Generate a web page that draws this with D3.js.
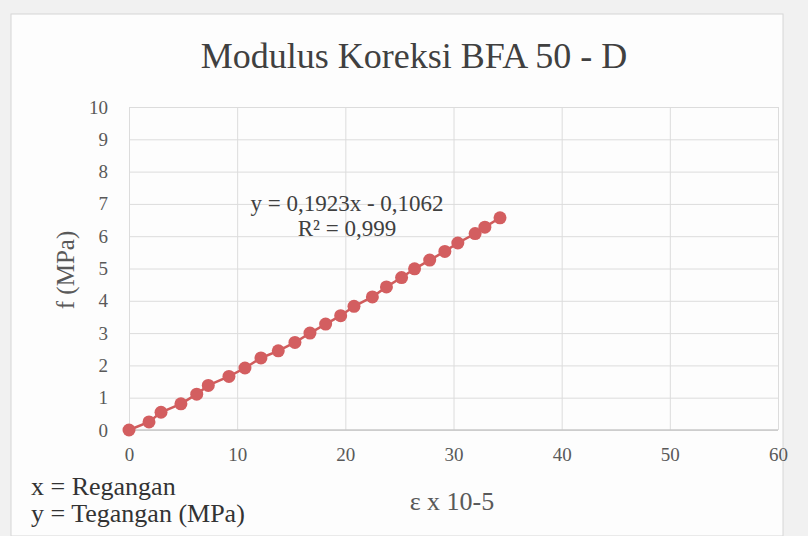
<!DOCTYPE html>
<html>
<head>
<meta charset="utf-8">
<script src="https://cdn.jsdelivr.net/npm/d3@7"></script>
<style>
  html, body { margin: 0; padding: 0; background: #f2f2f2; }
  svg { display: block; }
  svg text { font-family: "Liberation Serif", serif !important; }
</style>
</head>
<body>
<svg id="chart" width="808" height="536"></svg>
<script>
// strain (x 10^-5) and stress (MPa)
const strain = [0, 1.85, 2.96, 4.8, 6.26, 7.33, 9.24, 10.72, 12.2, 13.8, 15.34, 16.73, 18.18,
                19.57, 20.8, 22.5, 23.8, 25.2, 26.4, 27.8, 29.2, 30.4, 32.0, 32.9, 34.3];
const stress = [0, 0.25, 0.55, 0.81, 1.11, 1.38, 1.66, 1.92, 2.23, 2.45, 2.71, 3.0, 3.28,
                3.54, 3.83, 4.12, 4.43, 4.72, 4.99, 5.26, 5.53, 5.79, 6.08, 6.28, 6.57];
const xTicks = [0, 10, 20, 30, 40, 50, 60];
const yTicks = [0, 1, 2, 3, 4, 5, 6, 7, 8, 9, 10];
const titleText = "Modulus Koreksi BFA 50 - D";
const trendText = ["y = 0,1923x - 0,1062", "R² = 0,999"];
const notes = ["x = Regangan", "y = Tegangan (MPa)"];

const svg = d3.select("#chart");
const W = 808, H = 536;

// chart frame
svg.append("rect").attr("x", 0).attr("y", 0).attr("width", W).attr("height", H).attr("fill", "#f1f1f1");
svg.append("rect").attr("x", 11).attr("y", 14).attr("width", 772).attr("height", 522)
    .attr("fill", "#fdfdfd").attr("stroke", "#d6d6d6");

const x = d3.scaleLinear().domain([0, 60]).range([129, 778]);
const y = d3.scaleLinear().domain([0, 10]).range([430, 107]);

// gridlines
const gx = svg.append("g").attr("transform", `translate(0,${y(0)})`)
    .call(d3.axisBottom(x).tickValues(xTicks).tickSize(-(y(0) - y(10))).tickFormat(""));
gx.select(".domain").remove();
gx.selectAll("line").attr("stroke", "#dcdcdc");

const gy = svg.append("g").attr("transform", `translate(${x(0)},0)`)
    .call(d3.axisLeft(y).tickValues(yTicks).tickSize(-(x(60) - x(0))).tickFormat(""));
gy.select(".domain").remove();
gy.selectAll("line").attr("stroke", "#dcdcdc");

// x axis line
svg.append("line").attr("x1", x(0)).attr("x2", x(60)).attr("y1", y(0)).attr("y2", y(0))
    .attr("stroke", "#c8c8c8").attr("stroke-width", 1.5);

// tick labels
const xl = svg.append("g").attr("transform", `translate(0,${y(0)})`)
    .call(d3.axisBottom(x).tickValues(xTicks).tickSize(0).tickPadding(18).tickFormat(d3.format("d")));
xl.select(".domain").remove();
xl.selectAll("text").attr("fill", "#595959").attr("font-size", 19);

const yl = svg.append("g").attr("transform", `translate(${x(0)},0)`)
    .call(d3.axisLeft(y).tickValues(yTicks).tickSize(0).tickPadding(21).tickFormat(d3.format("d")));
yl.select(".domain").remove();
yl.selectAll("text").attr("fill", "#595959").attr("font-size", 19);

// series line + markers
const pts = strain.map((d, i) => [d, stress[i]]);
svg.append("path").datum(pts)
    .attr("fill", "none").attr("stroke", "#d05c5c").attr("stroke-width", 2.5)
    .attr("d", d3.line().x(d => x(d[0])).y(d => y(d[1])));
svg.append("g").selectAll("circle").data(pts).enter().append("circle")
    .attr("cx", d => x(d[0])).attr("cy", d => y(d[1])).attr("r", 6.5)
    .attr("fill", "#d35e60");

// title
svg.append("text").attr("x", 414).attr("y", 68).attr("text-anchor", "middle")
    .attr("fill", "#404040").attr("font-size", 36).text(titleText);

// trendline label
svg.selectAll(".trend").data(trendText).enter().append("text")
    .attr("x", 347).attr("y", (d, i) => 211 + i * 25).attr("text-anchor", "middle")
    .attr("fill", "#404040").attr("font-size", 23).text(d => d);

// axis titles
svg.append("text").attr("x", 452).attr("y", 510).attr("text-anchor", "middle")
    .attr("fill", "#595959").attr("font-size", 26).text("ε x 10-5");
svg.append("text").attr("transform", "translate(74,270) rotate(-90)").attr("text-anchor", "middle")
    .attr("fill", "#595959").attr("font-size", 25).text("f (MPa)");

// notes under the chart
svg.selectAll(".note").data(notes).enter().append("text")
    .attr("x", 31).attr("y", (d, i) => 495 + i * 27)
    .attr("fill", "#333").attr("font-size", 26).text(d => d);
</script>
</body>
</html>
